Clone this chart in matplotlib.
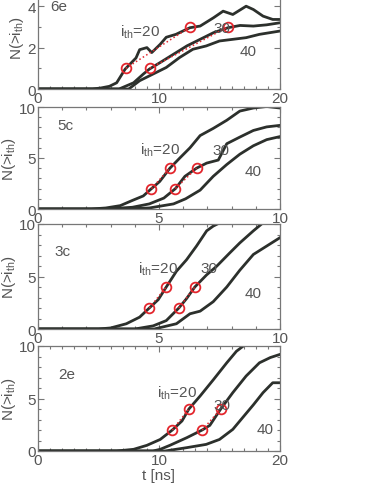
import matplotlib
matplotlib.use("Agg")
import matplotlib.pyplot as plt
from matplotlib.ticker import MultipleLocator

plt.rcParams['font.family'] = ['Liberation Sans', 'DejaVu Sans']
plt.rcParams['mathtext.fontset'] = 'custom'
plt.rcParams['mathtext.rm'] = 'Liberation Sans'
plt.rcParams['mathtext.it'] = 'Liberation Sans'

# ---------------- data ----------------
# Panel 6e (t 0..20)
p6e_t20 = [0, 4.5, 5.2, 5.9, 6.5, 7.2, 8.1, 8.4, 9.0, 9.4, 10.1, 10.6, 11.4, 12.55, 13.4, 14.5, 15.3, 16.1, 17.2, 17.8, 18.6, 19.4, 20]
p6e_n20 = [0, 0, 0.05, 0.13, 0.3, 0.96, 1.5, 1.9, 2.0, 1.76, 2.16, 2.5, 2.64, 2.96, 3.04, 3.44, 3.76, 3.6, 4.0, 3.84, 3.52, 3.36, 3.36]
p6e_t30 = [0, 6.7, 7.9, 8.7, 9.2, 10.1, 11.2, 12.3, 13.4, 14.5, 15.7, 16.7, 17.8, 18.9, 20]
p6e_n30 = [0, 0, 0.3, 0.72, 0.96, 1.28, 1.68, 2.08, 2.4, 2.72, 2.96, 3.07, 3.04, 3.1, 3.2]
p6e_t40 = [0, 7.5, 8.4, 9.5, 10.6, 11.7, 12.8, 13.9, 15.0, 16.1, 17.2, 18.3, 20]
p6e_n40 = [0, 0, 0.4, 0.72, 1.04, 1.52, 1.92, 2.08, 2.32, 2.4, 2.48, 2.64, 2.8]
p6e_mark_t = [[7.25, 12.6], [9.24, 15.7]]
p6e_mark_n = [[1, 3], [1, 3]]

# Panel 5c (t 0..10)
p5c_t20 = [0, 2.2, 2.8, 3.4, 3.9, 4.35, 4.69, 5.03, 5.45, 5.86, 6.28, 6.7, 7.24, 7.8, 8.34, 8.9, 9.45, 10]
p5c_n20 = [0, 0, 0.1, 0.33, 0.84, 1.28, 2.0, 2.7, 4.0, 5.0, 6.0, 7.2, 7.9, 8.7, 9.6, 9.9, 10.05, 9.9]
p5c_t30 = [0, 2.8, 3.9, 4.6, 5.2, 5.68, 6.07, 6.55, 6.97, 7.45, 7.8, 8.34, 8.9, 9.45, 10]
p5c_n30 = [0, 0, 0.17, 0.5, 1.07, 2.0, 3.2, 4.0, 4.5, 4.8, 6.4, 7.05, 7.7, 8.05, 8.2]
p5c_t40 = [0, 3.5, 4.6, 5.6, 6.1, 6.7, 7.24, 7.8, 8.34, 8.9, 9.45, 10]
p5c_n40 = [0, 0, 0.1, 0.5, 1.0, 1.85, 3.2, 4.36, 5.37, 6.2, 6.8, 7.1]
p5c_mark_t = [[4.69, 5.45], [5.68, 6.55]]
p5c_mark_n = [[2, 4], [2, 4]]

# Panel 3c (t 0..10)
p3c_t20 = [0, 2.5, 3.0, 3.65, 4.2, 4.6, 4.97, 5.3, 5.72, 6.14, 6.55, 6.97, 7.24, 7.5, 8.0]
p3c_n20 = [0, 0, 0.1, 0.5, 1.13, 2.0, 2.8, 4.0, 5.5, 6.6, 7.9, 9.35, 9.8, 10.1, 11.0]
p3c_t30 = [0, 4.0, 4.76, 5.3, 5.82, 6.14, 6.48, 6.97, 7.38, 7.93, 8.34, 8.9, 9.24, 9.6]
p3c_n30 = [0, 0, 0.3, 0.8, 2.0, 2.9, 4.0, 5.16, 5.97, 7.26, 8.2, 9.35, 10.0, 10.5]
p3c_t40 = [0, 4.8, 5.72, 6.28, 6.7, 7.24, 7.8, 8.34, 8.9, 9.45, 10]
p3c_n40 = [0, 0, 0.5, 1.45, 1.7, 2.6, 4.0, 5.6, 7.1, 7.9, 8.7]
p3c_mark_t = [[4.6, 5.3], [5.82, 6.48]]
p3c_mark_n = [[2, 4], [2, 4]]

# Panel 2e (t 0..20)
p2e_t20 = [0, 6.5, 7.9, 9.0, 10.1, 11.1, 11.9, 12.47, 13.4, 14.5, 15.6, 16.4, 16.97, 17.5]
p2e_n20 = [0, 0, 0.16, 0.54, 1.1, 2.0, 2.86, 4.0, 5.24, 6.8, 8.4, 9.5, 10.0, 10.6]
p2e_t30 = [0, 9.5, 10.1, 10.9, 12.3, 13.57, 14.2, 15.1, 16.1, 17.2, 18.3, 19.2, 20]
p2e_n30 = [0, 0, 0.16, 0.54, 1.27, 2.0, 2.44, 4.0, 5.56, 7.14, 8.4, 8.9, 9.2]
p2e_t40 = [0, 10.5, 12.3, 13.9, 15.0, 16.1, 17.0, 17.8, 18.6, 19.4, 20]
p2e_n40 = [0, 0, 0.32, 0.63, 1.1, 2.06, 3.3, 4.4, 5.56, 6.5, 6.5]
p2e_mark_t = [[11.1, 12.47], [13.57, 15.1]]
p2e_mark_n = [[2, 4], [2, 4]]

panel_names = ["6e", "5c", "3c", "2e"]
xmax = [20, 10, 10, 20]
ymax = [5, 10, 10, 10]

# ---------------- drawing ----------------
W, H = 374, 485
fig = plt.figure(figsize=(W / 100, H / 100), dpi=100)

# pixel boxes (top, bottom) for each panel
boxes = [(-13.5, 90), (108, 210), (225, 330), (347, 452)]
left_px, right_px = 38, 280

curve_col = '#2c302c'
text_col = '#555555'
red = '#e3262d'

panels = [
    (p6e_t20, p6e_n20, p6e_t30, p6e_n30, p6e_t40, p6e_n40, p6e_mark_t, p6e_mark_n),
    (p5c_t20, p5c_n20, p5c_t30, p5c_n30, p5c_t40, p5c_n40, p5c_mark_t, p5c_mark_n),
    (p3c_t20, p3c_n20, p3c_t30, p3c_n30, p3c_t40, p3c_n40, p3c_mark_t, p3c_mark_n),
    (p2e_t20, p2e_n20, p2e_t30, p2e_n30, p2e_t40, p2e_n40, p2e_mark_t, p2e_mark_n),
]

# label positions (data coords)
name_pos = [(1.0, 4.0), (0.8, 8.2), (0.7, 7.4), (1.65, 7.3)]
ith_pos = [(6.8, 2.8), (4.2, 5.9), (4.15, 5.8), (9.8, 5.55)]
l30_pos = [(14.5, 2.96), (7.2, 5.8), (6.7, 5.8), (14.5, 4.4)]
l40_pos = [(16.7, 1.84), (8.55, 3.7), (8.55, 3.4), (18.1, 2.06)]

fs = 11
for i, (pan, (top, bot)) in enumerate(zip(panels, boxes)):
    t20, n20, t30, n30, t40, n40, mt, mn = pan
    ax = fig.add_axes([left_px / W, 1 - bot / H, (right_px - left_px) / W, (bot - top) / H])
    for t, n in ((t20, n20), (t30, n30), (t40, n40)):
        ax.plot(t, n, color=curve_col, lw=2.0, solid_joinstyle='round')
    for t, n in zip(mt, mn):
        ax.plot(t, n, ls=':', color=red, lw=1.1)
        ax.plot(t, n, ls='none', marker='o', ms=7, mfc='none', mec=red, mew=1.3)
    ax.set_xlim(0, xmax[i])
    ax.set_ylim(0, ymax[i])
    ax.xaxis.set_major_locator(MultipleLocator(xmax[i] / 2))
    ax.xaxis.set_minor_locator(MultipleLocator(1))
    if i == 0:
        ax.yaxis.set_major_locator(MultipleLocator(2))
        ax.yaxis.set_minor_locator(MultipleLocator(1))
    else:
        ax.yaxis.set_major_locator(MultipleLocator(5))
        ax.yaxis.set_minor_locator(MultipleLocator(1))
    ax.tick_params(which='both', direction='in', top=True, right=True, colors='#777777',
                   labelcolor=text_col, labelsize=11, width=0.8)
    ax.tick_params(which='major', length=4, pad=1.5)
    ax.tick_params(which='minor', length=2)
    for s in ax.spines.values():
        s.set_color('#777777')
        s.set_linewidth(0.9)
    ax.set_ylabel(r'N(>i$_{\rm th}$)', color=text_col, fontsize=11, labelpad=1)
    ax.text(*name_pos[i], panel_names[i], color=text_col, fontsize=fs, va='center')
    ax.text(*ith_pos[i], r'i$_{\rm th}$=20', color=text_col, fontsize=fs, va='center')
    ax.text(*l30_pos[i], '30', color=text_col, fontsize=fs, va='center')
    ax.text(*l40_pos[i], '40', color=text_col, fontsize=fs, va='center')
    if i == 3:
        ax.set_xlabel('t [ns]', color=text_col, fontsize=11, labelpad=1)

fig.savefig('out.png', dpi=100, facecolor='white')
